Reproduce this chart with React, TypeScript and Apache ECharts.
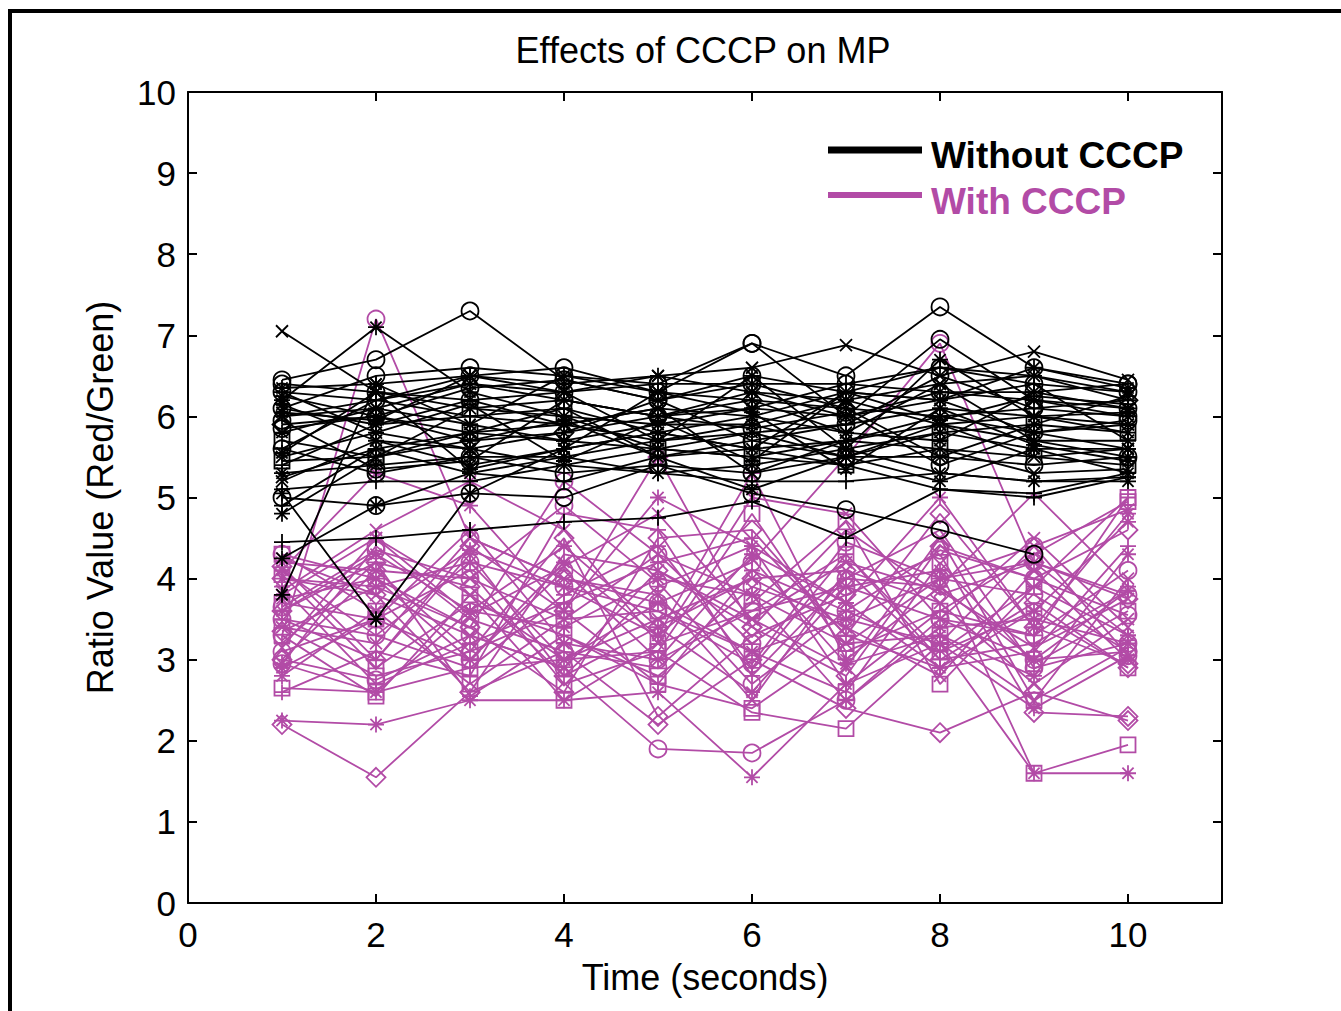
import React, { useEffect, useRef } from "react";
import * as echarts from "echarts";

const X = [1, 2, 3, 4, 5, 6, 7, 8, 9, 10];
const xTicks = [0, 2, 4, 6, 8, 10];
const yTicks = [0, 1, 2, 3, 4, 5, 6, 7, 8, 9, 10];

const TITLE = "Effects of CCCP on MP";
const X_NAME = "Time (seconds)";
const Y_NAME = "Ratio Value (Red/Green)";
const LEGEND = ["Without CCCP", "With CCCP"];

// Without CCCP (black)
const blackValues: (number | null)[][] = [
  [7.05, 6.3, 6.1, 6.2, 6.0, 6.3, 6.2, 6.4, 6.5, 6.3],
  [6.45, 6.7, 7.3, 6.45, 6.2, 6.5, 6.3, 6.6, 6.4, 6.3],
  [6.2, 7.1, 6.3, 6.0, 5.9, 6.1, 6.0, 6.3, 6.2, 6.0],
  [6.3, 6.2, 6.5, 6.6, 6.3, 6.9, 6.5, 7.35, 6.6, 6.4],
  [6.0, 6.1, 6.4, 6.3, 6.5, 6.6, 6.88, 6.5, 6.8, 6.45],
  [6.1, 6.5, 6.6, 6.5, 6.4, 6.9, 6.0, 6.95, 6.2, 6.1],
  [4.45, 4.5, 4.6, 4.7, 4.75, 4.95, 4.5, 5.1, 5.0, 5.25],
  [5.0, 4.9, 5.05, 5.0, 5.4, 5.05, 4.85, 4.6, 4.3, null],
  [3.8, 6.4, 5.9, 5.7, 5.6, 5.8, 5.5, 5.9, 5.7, 5.5],
  [5.05, 3.5, 5.05, 5.6, 5.8, 5.6, 5.7, 6.0, 5.8, 5.6],
  [4.25, 4.9, 5.3, 5.5, 5.7, 5.9, 5.6, 5.8, 5.6, 5.3],
  [5.4, 5.9, 6.0, 5.9, 5.7, 5.8, 5.9, 6.1, 6.0, 5.9],
  [5.5, 5.8, 5.6, 5.4, 5.6, 5.5, 5.7, 5.9, 5.5, 5.6],
  [5.7, 5.5, 5.8, 6.1, 5.5, 5.7, 5.5, 5.8, 5.9, 5.8],
  [5.9, 6.0, 5.7, 5.8, 6.0, 6.2, 6.1, 6.0, 6.1, 6.2],
  [6.4, 6.3, 6.2, 6.3, 6.4, 6.4, 6.4, 6.3, 6.3, 6.4],
  [5.3, 5.4, 5.5, 5.5, 5.3, 5.4, 5.6, 5.3, 5.2, 5.2],
  [4.9, 5.6, 5.3, 5.2, 5.5, 5.6, 5.4, 5.1, 5.05, 5.3],
  [6.1, 5.9, 6.2, 5.9, 6.1, 6.0, 6.3, 6.2, 5.8, 5.9],
  [5.8, 6.1, 5.9, 6.5, 6.3, 6.2, 5.8, 5.7, 6.3, 6.1],
  [5.6, 5.3, 5.5, 5.3, 5.4, 5.3, 5.5, 5.5, 5.4, 5.5],
  [6.0, 6.2, 6.4, 6.2, 6.0, 6.1, 6.4, 6.6, 6.5, 6.2],
  [5.2, 5.7, 5.4, 5.6, 5.8, 6.0, 5.8, 6.4, 5.7, 5.7],
  [6.25, 6.0, 5.8, 5.7, 5.9, 5.9, 6.2, 5.9, 6.0, 5.8],
  [5.45, 5.5, 6.1, 6.0, 5.6, 5.5, 5.4, 5.6, 5.5, 5.4],
  [6.35, 6.4, 6.5, 6.4, 6.5, 6.3, 6.0, 6.2, 6.6, 6.35],
  [5.1, 5.2, 5.2, 5.4, 5.3, 5.2, 5.2, 5.3, 5.2, 5.25],
  [4.8, 5.5, 5.7, 5.95, 5.5, 5.1, 5.5, 5.2, 5.6, 5.6],
  [5.85, 6.0, 6.35, 6.45, 6.2, 5.7, 5.9, 6.5, 6.1, 6.0],
  [6.15, 5.7, 5.6, 5.8, 6.2, 6.4, 6.1, 5.5, 5.9, 6.25],
  [5.6, 6.2, 6.0, 6.1, 5.8, 5.6, 6.3, 6.2, 6.4, 5.7],
  [5.25, 5.6, 5.8, 5.9, 6.1, 5.3, 5.7, 5.6, 5.3, 5.35],
  [6.05, 5.95, 6.5, 6.3, 5.7, 6.5, 5.6, 6.7, 6.0, 6.05],
  [5.95, 5.35, 5.45, 6.2, 6.0, 5.85, 6.05, 5.4, 5.8, 5.95],
  [5.55, 6.3, 5.35, 5.6, 6.3, 6.05, 5.35, 6.1, 5.65, 5.45],
  [6.3, 5.8, 6.15, 5.45, 5.95, 5.45, 6.3, 5.95, 6.25, 6.15],
];
const blackMarkers = ["x", "o", "*", "o", "x", "o", "+", "o", "*", "*", "*", "+", "x", "s", "d", "o", "*", "+", "x", "*", "o", "+", "x", "*", "s", "*", "+", "*", "o", "*", "+", "x", "*", "o", "*", "+"];

// With CCCP (magenta)
const magentaValues: (number | null)[][] = [
  [3.3, 7.2, 4.5, 4.0, 3.7, 4.2, 5.5, 6.9, 4.2, 3.8],
  [2.2, 1.55, 2.6, 3.1, 2.2, 3.0, 2.4, 2.1, 2.6, 2.25],
  [2.25, 2.2, 2.5, 2.5, 2.6, 1.55, 2.7, 3.2, 2.4, 3.05],
  [2.65, 2.6, 2.9, 3.0, 3.1, 2.35, 2.15, 3.2, 1.6, 1.95],
  [3.0, 2.75, 3.3, 2.9, 1.9, 1.85, 2.5, 3.5, 3.0, 3.1],
  [3.6, 4.3, 3.6, 4.4, 3.4, 2.6, 3.9, 4.1, 1.6, 1.6],
  [4.2, 4.1, 4.0, 3.5, 4.3, 3.8, 3.2, 4.0, 4.4, 4.85],
  [3.5, 3.0, 4.3, 2.8, 3.9, 4.4, 2.7, 3.6, 3.3, 5.0],
  [3.4, 2.8, 3.1, 3.6, 2.7, 2.4, 3.2, 3.3, 2.5, 3.15],
  [4.0, 3.8, 2.6, 4.3, 4.1, 3.4, 4.6, 3.8, 4.2, 3.75],
  [2.9, 3.5, 4.6, 3.2, 3.0, 4.3, 3.7, 2.9, 3.6, 4.7],
  [4.3, 4.0, 3.4, 5.2, 4.3, 3.2, 4.0, 4.6, 2.9, 3.2],
  [3.8, 4.5, 3.8, 3.0, 3.5, 4.0, 3.4, 2.8, 4.1, 3.0],
  [4.1, 3.3, 2.9, 3.8, 4.4, 2.9, 4.3, 3.0, 3.2, 3.85],
  [3.7, 3.5, 4.1, 2.7, 3.1, 4.8, 3.1, 3.6, 4.3, 4.95],
  [3.0, 4.1, 3.1, 4.5, 2.3, 3.3, 3.8, 4.3, 2.35, 2.3],
  [2.95, 2.6, 3.6, 3.4, 4.0, 3.8, 2.5, 3.4, 3.5, 3.2],
  [3.5, 3.3, 4.2, 3.9, 3.6, 2.95, 4.45, 4.0, 3.8, 3.1],
  [4.25, 3.8, 3.3, 2.9, 4.1, 3.5, 2.9, 4.5, 2.5, 4.0],
  [3.2, 4.2, 2.55, 3.3, 2.7, 4.1, 3.6, 3.1, 3.9, 3.3],
  [3.3, 2.55, 3.8, 2.5, 3.2, 3.6, 4.3, 3.1, 3.6, 2.9],
  [4.15, 3.0, 4.4, 3.6, 5.5, 3.4, 2.8, 4.4, 4.0, 4.6],
  [3.75, 4.0, 3.0, 4.2, 3.3, 5.3, 3.0, 3.9, 3.0, 3.85],
  [2.95, 4.4, 3.5, 3.1, 2.9, 3.9, 3.5, 3.2, 4.4, 3.05],
  [3.4, 3.2, 4.5, 4.0, 3.8, 2.5, 4.1, 3.7, 2.7, 3.5],
  [3.9, 2.7, 3.2, 3.7, 4.2, 4.5, 3.3, 2.9, 3.1, 4.4],
  [4.3, 3.6, 2.7, 3.5, 3.6, 3.1, 2.6, 4.2, 2.95, 3.6],
  [3.6, 4.2, 3.9, 2.8, 3.4, 4.0, 4.1, 3.0, 3.7, 2.9],
  [4.0, 3.9, 4.2, 3.0, 3.7, 3.1, 3.5, 4.0, 4.2, 3.3],
  [3.1, 3.5, 3.0, 4.1, 3.0, 3.6, 3.9, 3.5, 3.3, 4.1],
  [4.1, 5.3, 4.9, 3.6, 5.0, 4.4, 3.7, 5.0, 3.4, 4.8],
  [3.85, 4.6, 5.2, 4.6, 3.2, 5.0, 4.8, 3.5, 4.5, 3.4],
  [2.6, 3.1, 2.8, 4.8, 4.6, 2.8, 4.0, 3.9, 5.05, 3.9],
  [3.35, 3.9, 3.4, 2.6, 4.5, 4.6, 3.3, 4.8, 3.4, 2.95],
  [4.05, 2.9, 3.7, 3.3, 2.8, 3.7, 4.7, 2.7, 3.9, 5.0],
  [3.65, 4.35, 4.0, 4.9, 3.95, 2.7, 3.6, 4.35, 4.0, 3.55],
  [2.8, 3.6, 4.35, 3.9, 3.3, 4.25, 2.95, 3.3, 2.8, 4.3],
  [3.15, 4.5, 3.55, 4.15, 4.8, 3.5, 4.2, 3.85, 3.15, 3.75],
];
const magentaMarkers = ["o", "d", "*", "s", "o", "*", "x", "+", "s", "d", "*", "o", "x", "+", "s", "d", "*", "o", "x", "+", "s", "d", "*", "o", "x", "+", "s", "d", "*", "o", "*", "x", "+", "d", "s", "o", "*", "x"];

const BLACK = "#000000";
const MAGENTA = "#B24BA6";
const FONT = "'Liberation Sans', Arial, sans-serif";

const SYMBOLS: Record<string, { symbol: string; size: number }> = {
  o: { symbol: "circle", size: 17 },
  s: { symbol: "rect", size: 15 },
  d: { symbol: "diamond", size: 19 },
  x: { symbol: "path://M0,0L10,10M0,10L10,0", size: 12 },
  "+": { symbol: "path://M5,0L5,10M0,5L10,5", size: 16 },
  "*": { symbol: "path://M5,0L5,10M0,5L10,5M1.5,1.5L8.5,8.5M1.5,8.5L8.5,1.5", size: 16 },
};

function makeSeries(values: (number | null)[][], markers: string[], color: string, z: number) {
  return values.map((vals, i) => {
    const m = SYMBOLS[markers[i % markers.length]];
    const data: number[][] = [];
    vals.forEach((v, j) => {
      if (v !== null) data.push([X[j], v]);
    });
    return {
      type: "line",
      data,
      xAxisIndex: 0,
      yAxisIndex: 0,
      symbol: m.symbol,
      symbolSize: m.size,
      showAllSymbol: true,
      silent: true,
      z,
      lineStyle: { color, width: 1.8 },
      itemStyle: { color: "rgba(0,0,0,0)", borderColor: color, borderWidth: 1.8 },
      emphasis: { disabled: true },
    };
  });
}

const axisLine = { show: true, onZero: false, lineStyle: { color: "#000", width: 2 } };
const axisTick = { show: true, inside: true, length: 9, lineStyle: { color: "#000", width: 2 } };

const option: any = {
  animation: false,
  backgroundColor: "#ffffff",
  grid: { left: 188, top: 92, right: 119, bottom: 108, containLabel: false },
  xAxis: [
    {
      type: "value",
      min: 0,
      max: 11,
      interval: 2,
      position: "bottom",
      axisLine,
      axisTick,
      splitLine: { show: false },
      axisLabel: {
        color: "#000",
        fontSize: 35,
        fontFamily: FONT,
        margin: 14,
        showMaxLabel: false,
        formatter: (v: number) => (xTicks.includes(v) ? String(v) : ""),
      },
      name: X_NAME,
      nameLocation: "middle",
      nameGap: 56,
      nameTextStyle: { color: "#000", fontSize: 36, fontFamily: FONT },
    },
    {
      type: "value",
      min: 0,
      max: 11,
      interval: 2,
      position: "top",
      axisLine,
      axisTick,
      splitLine: { show: false },
      axisLabel: { show: false },
    },
  ],
  yAxis: [
    {
      type: "value",
      min: 0,
      max: 10,
      interval: 1,
      position: "left",
      axisLine,
      axisTick,
      splitLine: { show: false },
      axisLabel: {
        color: "#000",
        fontSize: 35,
        fontFamily: FONT,
        margin: 12,
        formatter: (v: number) => (yTicks.includes(v) ? String(v) : ""),
      },
      name: Y_NAME,
      nameLocation: "middle",
      nameGap: 70,
      nameTextStyle: { color: "#000", fontSize: 36, fontFamily: FONT },
    },
    {
      type: "value",
      min: 0,
      max: 10,
      interval: 1,
      position: "right",
      axisLine,
      axisTick,
      splitLine: { show: false },
      axisLabel: { show: false },
    },
  ],
  series: [
    ...makeSeries(magentaValues, magentaMarkers, MAGENTA, 2),
    ...makeSeries(blackValues, blackMarkers, BLACK, 3),
  ],
  graphic: [
    { type: "line", shape: { x1: 10, y1: 9, x2: 10, y2: 1011 }, style: { stroke: "#000", lineWidth: 4 } },
    { type: "line", shape: { x1: 8, y1: 11, x2: 1341, y2: 11 }, style: { stroke: "#000", lineWidth: 4 } },
    {
      type: "text",
      x: 703,
      y: 50,
      style: { text: TITLE, font: `36px ${FONT}`, fill: "#000", align: "center", verticalAlign: "middle" },
    },
    { type: "line", z: 10, shape: { x1: 828, y1: 150, x2: 922, y2: 150 }, style: { stroke: BLACK, lineWidth: 7 } },
    {
      type: "text",
      z: 10,
      x: 931,
      y: 155,
      style: { text: LEGEND[0], font: `bold 37px ${FONT}`, fill: BLACK, verticalAlign: "middle" },
    },
    { type: "line", z: 10, shape: { x1: 828, y1: 195, x2: 922, y2: 195 }, style: { stroke: MAGENTA, lineWidth: 6 } },
    {
      type: "text",
      z: 10,
      x: 931,
      y: 201,
      style: { text: LEGEND[1], font: `bold 37px ${FONT}`, fill: MAGENTA, verticalAlign: "middle" },
    },
  ],
};

export default function App() {
  const ref = useRef<HTMLDivElement>(null);
  useEffect(() => {
    if (!ref.current) return;
    const chart = echarts.init(ref.current, null, { renderer: "svg" });
    chart.setOption(option);
    return () => chart.dispose();
  }, []);
  return (
    <div
      ref={ref}
      style={{ position: "absolute", left: 0, top: 0, width: 1341, height: 1011, background: "#fff" }}
    />
  );
}
